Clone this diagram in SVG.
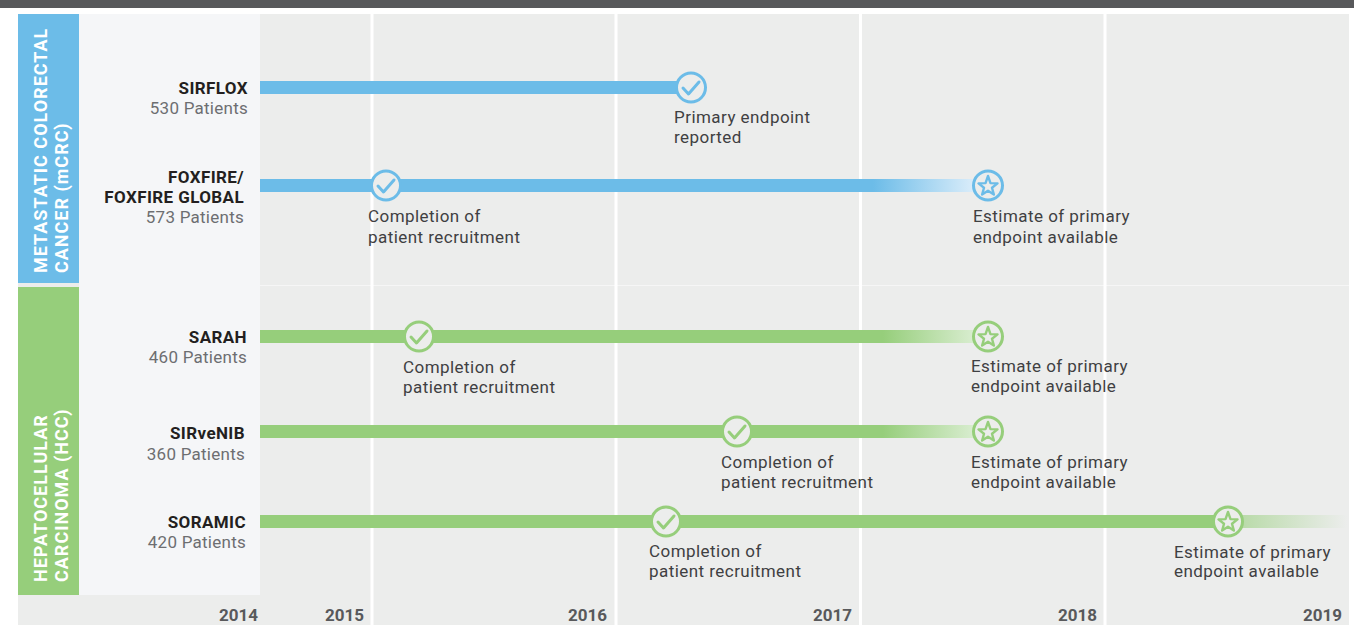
<svg xmlns="http://www.w3.org/2000/svg" width="1354" height="625" viewBox="0 0 1354 625">
<style>
.title{font-family:Roboto,"Liberation Sans",sans-serif;font-weight:bold;font-size:17px;fill:#231f20;text-anchor:end;letter-spacing:0.4px}
.pat{font-family:Roboto,"Liberation Sans",sans-serif;font-size:17px;fill:#6d6e71;text-anchor:end;letter-spacing:0.25px}
.lbl{font-family:Roboto,"Liberation Sans",sans-serif;font-size:17px;fill:#3f4042;letter-spacing:0.45px}
.year{font-family:Roboto,"Liberation Sans",sans-serif;font-weight:bold;font-size:17px;fill:#58595b;text-anchor:end}
.side{font-family:Roboto,"Liberation Sans",sans-serif;font-weight:bold;font-size:18px;fill:#ffffff;letter-spacing:1px}
.blue{fill:#6cbce8}
.green{fill:#96ce7b}
.vline{stroke:#ffffff;stroke-width:3}
</style>
<defs>
<linearGradient id="fadeBlue" x1="0" y1="0" x2="1" y2="0">
<stop offset="0" stop-color="#6cbce8"/>
<stop offset="1" stop-color="#dbedfa"/>
</linearGradient>
<linearGradient id="fadeGreen" x1="0" y1="0" x2="1" y2="0">
<stop offset="0" stop-color="#96ce7b"/>
<stop offset="1" stop-color="#d9edd0"/>
</linearGradient>
<linearGradient id="tailGreen" x1="0" y1="0" x2="1" y2="0">
<stop offset="0" stop-color="#96ce7b" stop-opacity="0.6"/>
<stop offset="1" stop-color="#96ce7b" stop-opacity="0"/>
</linearGradient>
<g id="check">
<circle r="14.5" fill="#ecedec" stroke="currentColor" stroke-width="3"/>
<path d="M-8,0.5 L-2.5,6.5 L8,-5.5" fill="none" stroke="currentColor" stroke-width="3" stroke-linecap="round" stroke-linejoin="round"/>
</g>
<g id="star">
<circle r="14.5" fill="#ecedec" stroke="currentColor" stroke-width="3"/>
<polygon points="0,-9.5 2.47,-2.4 9.51,-2.09 3.99,2.3 5.88,9.09 0,5.2 -5.88,9.09 -3.99,2.3 -9.51,-2.09 -2.47,-2.4" fill="none" stroke="currentColor" stroke-width="2.4" stroke-linejoin="round"/>
</g>
</defs>

<g id="background">
<rect x="0" y="0" width="1354" height="625" fill="#ffffff"/>
<rect x="0" y="0" width="1354" height="8" fill="#58595b"/>
<rect x="18" y="14" width="1331" height="611" fill="#ecedec"/>
<rect x="79" y="14" width="181" height="581" fill="#f5f6f8"/>
<line x1="260" y1="285.5" x2="1349" y2="285.5" stroke="#f6f6f6" stroke-width="1"/>
<line class="vline" x1="372" y1="14" x2="372" y2="625"/>
<line class="vline" x1="616" y1="14" x2="616" y2="625"/>
<line class="vline" x1="860.5" y1="14" x2="860.5" y2="625"/>
<line class="vline" x1="1105" y1="14" x2="1105" y2="625"/>
</g>

<g id="group-mcrc">
<rect class="blue" x="18" y="14" width="61" height="269"/>
<text class="side" transform="translate(47,273) rotate(-90)"><tspan x="0" y="0">METASTATIC COLORECTAL</tspan><tspan x="0" y="21">CANCER (mCRC)</tspan></text>
</g>
<g id="group-hcc">
<rect class="green" x="18" y="287" width="61" height="308"/>
<text class="side" transform="translate(47,582) rotate(-90)"><tspan x="0" y="0">HEPATOCELLULAR</tspan><tspan x="0" y="21">CARCINOMA (HCC)</tspan></text>
</g>

<g id="years">
<text class="year" x="258" y="621">2014</text>
<text class="year" x="364" y="621">2015</text>
<text class="year" x="607" y="621">2016</text>
<text class="year" x="852" y="621">2017</text>
<text class="year" x="1097" y="621">2018</text>
<text class="year" x="1342" y="621">2019</text>
</g>

<g id="connectors">
<rect class="blue" x="260" y="81" width="431" height="13"/>
<rect class="blue" x="260" y="179" width="614" height="13"/>
<rect fill="url(#fadeBlue)" x="873" y="179" width="102" height="13"/>
<rect class="green" x="260" y="330" width="624" height="13"/>
<rect fill="url(#fadeGreen)" x="883" y="330" width="92" height="13"/>
<rect class="green" x="260" y="425" width="624" height="13"/>
<rect fill="url(#fadeGreen)" x="883" y="425" width="92" height="13"/>
<rect class="green" x="260" y="515" width="968" height="13"/>
<rect fill="url(#tailGreen)" x="1240" y="515" width="107" height="13"/>
</g>

<g id="sirflox">
<text class="title" x="248" y="94">SIRFLOX</text>
<text class="pat" x="248" y="114">530 Patients</text>
<use href="#check" x="691" y="87.5" style="color:#6cbce8"/>
<text class="lbl" x="674" y="123">Primary endpoint</text>
<text class="lbl" x="674" y="143">reported</text>
</g>

<g id="foxfire">
<text class="title" x="244" y="183">FOXFIRE/</text>
<text class="title" x="244" y="203">FOXFIRE GLOBAL</text>
<text class="pat" x="244" y="223">573 Patients</text>
<use href="#check" x="386" y="185.5" style="color:#6cbce8"/>
<text class="lbl" x="368" y="222">Completion of</text>
<text class="lbl" x="368" y="243">patient recruitment</text>
<use href="#star" x="988" y="185.5" style="color:#6cbce8"/>
<text class="lbl" x="973" y="222">Estimate of primary</text>
<text class="lbl" x="973" y="243">endpoint available</text>
</g>

<g id="sarah">
<text class="title" x="247" y="343">SARAH</text>
<text class="pat" x="247" y="363">460 Patients</text>
<use href="#check" x="419" y="336.5" style="color:#96ce7b"/>
<text class="lbl" x="403" y="373">Completion of</text>
<text class="lbl" x="403" y="393">patient recruitment</text>
<use href="#star" x="988" y="336.5" style="color:#96ce7b"/>
<text class="lbl" x="971" y="372">Estimate of primary</text>
<text class="lbl" x="971" y="392">endpoint available</text>
</g>

<g id="sirvenib">
<text class="title" x="245" y="439">SIRveNIB</text>
<text class="pat" x="245" y="460">360 Patients</text>
<use href="#check" x="737" y="431.5" style="color:#96ce7b"/>
<text class="lbl" x="721" y="468">Completion of</text>
<text class="lbl" x="721" y="488">patient recruitment</text>
<use href="#star" x="988" y="431.5" style="color:#96ce7b"/>
<text class="lbl" x="971" y="468">Estimate of primary</text>
<text class="lbl" x="971" y="488">endpoint available</text>
</g>

<g id="soramic">
<text class="title" x="246" y="528">SORAMIC</text>
<text class="pat" x="246" y="548">420 Patients</text>
<use href="#check" x="666" y="521.5" style="color:#96ce7b"/>
<text class="lbl" x="649" y="557">Completion of</text>
<text class="lbl" x="649" y="577">patient recruitment</text>
<use href="#star" x="1228" y="521.5" style="color:#96ce7b"/>
<text class="lbl" x="1174" y="558">Estimate of primary</text>
<text class="lbl" x="1174" y="577">endpoint available</text>
</g>
</svg>
